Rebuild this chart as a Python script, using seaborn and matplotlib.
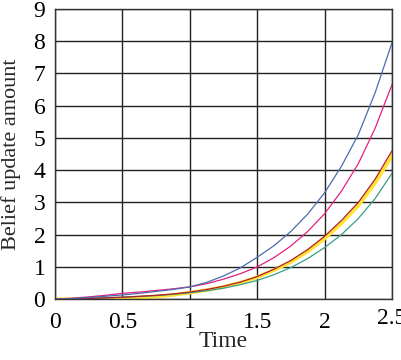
import numpy as np
import pandas as pd
import matplotlib
matplotlib.use("Agg")
import matplotlib.pyplot as plt
import matplotlib.transforms as mtransforms
import seaborn as sns

time = [0, 0.125, 0.25, 0.375, 0.5, 0.625, 0.75, 0.875, 1.0, 1.125, 1.25,
        1.375, 1.5, 1.625, 1.75, 1.875, 2.0, 2.125, 2.25, 2.375, 2.5]
yellow = [0, 0, 0, 0.01, 0.02, 0.05, 0.08, 0.13, 0.20, 0.28, 0.38,
          0.51, 0.68, 0.90, 1.15, 1.48, 1.88, 2.35, 2.90, 3.60, 4.45]
green = [0, 0.01, 0.02, 0.04, 0.06, 0.08, 0.11, 0.15, 0.20, 0.26, 0.34,
         0.45, 0.58, 0.76, 0.98, 1.26, 1.60, 2.00, 2.50, 3.12, 3.90]
red = [0, 0.01, 0.02, 0.04, 0.06, 0.09, 0.12, 0.16, 0.22, 0.30, 0.40,
       0.53, 0.70, 0.93, 1.20, 1.54, 1.95, 2.44, 3.00, 3.72, 4.60]
magenta = [0, 0.03, 0.07, 0.12, 0.18, 0.22, 0.27, 0.32, 0.38, 0.48, 0.62,
           0.79, 1.00, 1.29, 1.65, 2.10, 2.65, 3.35, 4.20, 5.30, 6.65]
blue = [0, 0.02, 0.05, 0.09, 0.13, 0.18, 0.24, 0.30, 0.38, 0.52, 0.72,
        0.97, 1.30, 1.66, 2.10, 2.64, 3.30, 4.12, 5.10, 6.40, 7.95]

series = {"yellow": yellow, "green": green, "red": red, "magenta": magenta, "blue": blue}
colors = {"yellow": "#ffe433", "green": "#3a9c8c", "red": "#b2202a", "magenta": "#e3207c", "blue": "#4a6cb0"}
widths = {"yellow": 2.6, "green": 0.9, "red": 0.9, "magenta": 0.9, "blue": 0.9}

rows = []
for name, vals in series.items():
    for t, v in zip(time, vals):
        rows.append({"Time": t, "value": v, "series": name})
df = pd.DataFrame(rows)

sns.set_style("white")
plt.rcParams["font.family"] = ["Liberation Serif", "DejaVu Serif"]

fig = plt.figure(figsize=(4.02, 3.6), dpi=100)
ax = fig.add_axes([0.137, 0.169, 0.838, 0.806])

for name in series:
    sub = df[df["series"] == name]
    sns.lineplot(data=sub, x="Time", y="value", color=colors[name], lw=widths[name], ax=ax, legend=False)

ax.set_xlim(0, 2.5)
ax.set_ylim(0, 9)
ax.set_xticks([0, 0.5, 1, 1.5, 2, 2.5])
ax.set_xticklabels(["0", "0.5", "1", "1.5", "2", "2.5"])
ax.set_yticks(range(10))
ax.grid(True, color="#222222", lw=1.0)
ax.set_axisbelow(True)
for s in ax.spines.values():
    s.set_color("#333333")
    s.set_linewidth(1.0)
ax.tick_params(length=0, labelsize=17, colors="black")
ax.tick_params(axis="x", pad=9)
ax.tick_params(axis="y", pad=7)
ax.set_xlabel("Time", fontsize=17, labelpad=-1)
ax.set_ylabel("Belief update amount", fontsize=16, labelpad=9)

lab = ax.get_xticklabels()[-1]
lab.set_transform(lab.get_transform() + mtransforms.ScaledTranslation(0, 4 / 100, fig.dpi_scale_trans))

fig.savefig("out.png", dpi=100)
